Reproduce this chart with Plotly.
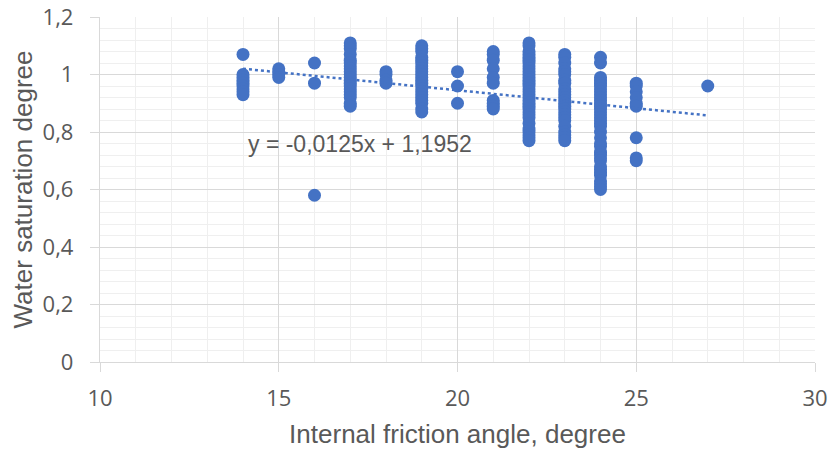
import plotly.graph_objects as go

# Internal friction angle (degree) groups and water saturation values
angle_14 = [1.07, 1.00, 0.99, 0.98, 0.97, 0.96, 0.95, 0.94, 0.93]
angle_15 = [1.02, 1.01, 1.00, 0.99]
angle_16 = [1.04, 0.97, 0.58]
angle_17 = [1.11, 1.10, 1.09, 1.07, 1.05, 1.04, 1.03, 1.02, 1.01, 1.00, 0.99, 0.98,
            0.97, 0.96, 0.95, 0.94, 0.93, 0.92, 0.90, 0.89]
angle_18 = [1.01, 1.00, 0.98, 0.97]
angle_19 = [1.10, 1.09, 1.08, 1.06, 1.05, 1.04, 1.03, 1.02, 1.01, 1.00, 0.99, 0.98,
            0.97, 0.96, 0.95, 0.94, 0.93, 0.92, 0.91, 0.90, 0.88, 0.87]
angle_20 = [1.01, 0.96, 0.90]
angle_21 = [1.08, 1.07, 1.05, 1.02, 0.99, 0.97, 0.91, 0.90, 0.89, 0.88]
angle_22 = [1.11, 1.10, 1.08, 1.07, 1.06, 1.05, 1.04, 1.03, 1.02, 1.01, 1.00, 0.99,
            0.98, 0.97, 0.96, 0.95, 0.94, 0.93, 0.92, 0.91, 0.90, 0.89, 0.88, 0.87,
            0.86, 0.85, 0.83, 0.81, 0.80, 0.79, 0.78, 0.77]
angle_23 = [1.07, 1.06, 1.04, 1.02, 1.01, 1.00, 0.98, 0.97, 0.95, 0.94, 0.93, 0.92,
            0.91, 0.90, 0.89, 0.88, 0.87, 0.86, 0.85, 0.84, 0.82, 0.80, 0.79, 0.78, 0.77]
angle_24 = [1.06, 1.04, 0.99, 0.98, 0.97, 0.96, 0.95, 0.94, 0.93, 0.92, 0.91, 0.90,
            0.89, 0.88, 0.87, 0.86, 0.85, 0.84, 0.83, 0.82, 0.80, 0.78, 0.76, 0.75,
            0.73, 0.72, 0.71, 0.70, 0.68, 0.67, 0.66, 0.65, 0.63, 0.62, 0.61, 0.60]
angle_25 = [0.97, 0.96, 0.94, 0.92, 0.90, 0.89, 0.78, 0.71, 0.70]
angle_27 = [0.96]

groups = {14: angle_14, 15: angle_15, 16: angle_16, 17: angle_17, 18: angle_18,
          19: angle_19, 20: angle_20, 21: angle_21, 22: angle_22, 23: angle_23,
          24: angle_24, 25: angle_25, 27: angle_27}

# Linear trend shown in the chart
trend_slope = -0.0125
trend_intercept = 1.1952
trend_x = [14, 27]
trend_label = "y = -0,0125x + 1,1952"

x_ticks = [10, 15, 20, 25, 30]
x_tick_text = ["10", "15", "20", "25", "30"]
y_ticks = [0, 0.2, 0.4, 0.6, 0.8, 1.0, 1.2]
y_tick_text = ["0", "0,2", "0,4", "0,6", "0,8", "1", "1,2"]

xs, ys = [], []
for a, vals in groups.items():
    xs += [a] * len(vals)
    ys += vals

trend_y = [trend_slope * v + trend_intercept for v in trend_x]

BLUE = "#4472C4"
GRAY_TXT = "#595959"
TICK_FONT = dict(family="Open Sans, Liberation Sans", size=22, color=GRAY_TXT)
TITLE_FONT = dict(family="Liberation Sans, Arial", size=26, color=GRAY_TXT)

fig = go.Figure()
fig.add_trace(go.Scatter(x=xs, y=ys, mode="markers",
                         marker=dict(size=13, color=BLUE, line=dict(width=0)),
                         showlegend=False))
fig.add_trace(go.Scatter(x=trend_x, y=trend_y, mode="lines",
                         line=dict(color=BLUE, width=2.5, dash="dot"),
                         showlegend=False))
fig.add_annotation(x=17.27, y=0.758, text=trend_label, showarrow=False,
                   font=dict(family="Liberation Sans, Arial", size=23, color=GRAY_TXT))

fig.update_layout(
    width=831, height=450,
    margin=dict(l=100, r=16, t=17, b=88, autoexpand=False),
    paper_bgcolor="white", plot_bgcolor="white",
    xaxis=dict(range=[10, 30], tickvals=x_ticks, ticktext=x_tick_text, automargin=False,
               ticklabeloverflow="allow", ticklabelstandoff=7,
               showgrid=True, gridcolor="#d9d9d9", gridwidth=1.3,
               minor=dict(dtick=1, tick0=10, showgrid=True, gridcolor="#efefef", gridwidth=1),
               ticks="outside", ticklen=9, tickcolor="#d9d9d9", tickwidth=1.3,
               showline=True, linecolor="#d9d9d9", linewidth=1.3,
               zeroline=False, tickfont=TICK_FONT,
               title=dict(text="Internal friction angle, degree", standoff=14, font=TITLE_FONT)),
    yaxis=dict(range=[0, 1.2], tickvals=y_ticks, ticktext=y_tick_text, automargin=False,
               ticklabeloverflow="allow", ticklabelstandoff=12,
               showgrid=True, gridcolor="#d9d9d9", gridwidth=1.3,
               minor=dict(dtick=0.04, tick0=0, showgrid=True, gridcolor="#efefef", gridwidth=1),
               ticks="outside", ticklen=9, tickcolor="#d9d9d9", tickwidth=1.3,
               showline=True, linecolor="#d9d9d9", linewidth=1.3,
               zeroline=False, tickfont=TICK_FONT,
               title=dict(text="Water saturation degree", standoff=2, font=TITLE_FONT)),
)

fig.write_html("out.html", config={"displayModeBar": False},
               post_script="document.body.style.margin='0';document.body.style.overflow='hidden';")
